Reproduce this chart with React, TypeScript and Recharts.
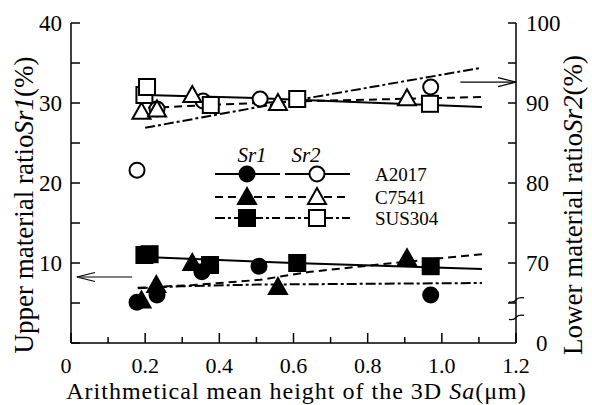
import React from 'react';
import { ComposedChart, Scatter, XAxis, YAxis, ReferenceLine } from 'recharts';

const FONT = "'Liberation Serif', 'Times New Roman', Tinos, 'DejaVu Serif', serif";
const INK = '#000';

const xTicks = [0, 0.1, 0.2, 0.3, 0.4, 0.5, 0.6, 0.7, 0.8, 0.9, 1.0, 1.1, 1.2];
const sr1Ticks = [0, 5, 10, 15, 20, 25, 30, 35, 40];
const sr1Labels: Record<number, string> = { 10: '10', 20: '20', 30: '30', 40: '40' };
const sr2Ticks = [60, 65, 70, 75, 80, 85, 90, 95, 100];
const sr2Labels: Record<number, string> = { 60: '0', 70: '70', 80: '80', 90: '90', 100: '100' };

const materials = ['A2017', 'C7541', 'SUS304'];

// Sr1 (upper material ratio, left axis) - filled markers
const a2017Sr1 = [
  { x: 0.178, y: 5.1 }, { x: 0.232, y: 6.0 }, { x: 0.353, y: 8.9 }, { x: 0.507, y: 9.6 }, { x: 0.97, y: 6.0 },
];
const c7541Sr1 = [
  { x: 0.19, y: 5.3 }, { x: 0.23, y: 7.25 }, { x: 0.327, y: 10.0 }, { x: 0.558, y: 7.0 }, { x: 0.906, y: 10.6 },
];
const sus304Sr1 = [
  { x: 0.198, y: 11.0 }, { x: 0.212, y: 11.1 }, { x: 0.375, y: 9.75 }, { x: 0.61, y: 10.0 }, { x: 0.97, y: 9.6 },
];

// Sr2 (lower material ratio, right axis) - open markers
const a2017Sr2 = [
  { x: 0.178, y: 81.6 }, { x: 0.232, y: 89.25 }, { x: 0.356, y: 90.25 }, { x: 0.51, y: 90.5 }, { x: 0.97, y: 92.0 },
];
const c7541Sr2 = [
  { x: 0.19, y: 88.9 }, { x: 0.232, y: 89.2 }, { x: 0.327, y: 91.0 }, { x: 0.558, y: 90.0 }, { x: 0.906, y: 90.6 },
];
const sus304Sr2 = [
  { x: 0.198, y: 91.0 }, { x: 0.205, y: 92.0 }, { x: 0.377, y: 89.75 }, { x: 0.61, y: 90.5 }, { x: 0.968, y: 89.9 },
];

// fitted curves
const a2017Sr1Fit = [{ x: 0.2, y: 10.75 }, { x: 0.6, y: 10.0 }, { x: 1.108, y: 9.25 }];
const c7541Sr1Fit = [
  { x: 0.18, y: 6.9 }, { x: 0.33, y: 7.25 }, { x: 0.51, y: 7.9 }, { x: 0.645, y: 8.9 }, { x: 0.87, y: 10.0 }, { x: 1.108, y: 11.1 },
];
const sus304Sr1Fit = [{ x: 0.18, y: 6.85 }, { x: 0.3, y: 7.1 }, { x: 0.5, y: 7.3 }, { x: 0.8, y: 7.4 }, { x: 1.108, y: 7.5 }];
const a2017Sr2Fit = [{ x: 0.2, y: 91.0 }, { x: 0.51, y: 90.6 }, { x: 0.78, y: 90.1 }, { x: 1.108, y: 89.5 }];
const c7541Sr2Fit = [{ x: 0.208, y: 89.4 }, { x: 0.6, y: 90.2 }, { x: 1.108, y: 90.75 }];
const sus304Sr2Fit = [{ x: 0.2, y: 86.9 }, { x: 0.6, y: 90.3 }, { x: 1.108, y: 94.4 }];

const dashes = ['', '8 5', '10 3 3 3'];
const kinds = ['circle', 'triangle', 'square'] as const;

const txt = (size: number, italic = false) => ({ fontFamily: FONT, fontSize: size, fontStyle: italic ? 'italic' : 'normal', fill: INK });

function Marker({ kind, filled, cx, cy }: { kind: string; filled: boolean; cx: number; cy: number }) {
  const style = { fill: filled ? INK : '#fff', stroke: INK, strokeWidth: 2 };
  if (kind === 'circle') return <circle cx={cx} cy={cy} r={7.5} {...style} />;
  if (kind === 'square') return <rect x={cx - 8} y={cy - 8} width={16} height={16} {...style} />;
  return <polygon points={`${cx},${cy - 9} ${cx + 9},${cy + 7} ${cx - 9},${cy + 7}`} {...style} />;
}

const markerShape = (kind: string, filled: boolean) => (p: any) =>
  <Marker kind={kind} filled={filled} cx={p.cx} cy={p.cy} />;

const noDot = () => <g />;

const BottomTick = ({ x, y, payload }: any) => {
  const v = payload.value;
  const major = Math.round(v * 10) % 2 === 0;
  return (
    <g>
      <line x1={x} x2={x} y1={y} y2={y - (major ? 10 : 6)} stroke={INK} strokeWidth={1.5} />
      {major && (
        <text x={v === 0 ? x - 5 : x} y={y + 30} textAnchor="middle" style={txt(22)}>
          {v === 0 ? '0' : v.toFixed(1)}
        </text>
      )}
    </g>
  );
};

const TopTick = ({ x, y, payload }: any) => {
  const major = Math.round(payload.value * 10) % 2 === 0;
  return <line x1={x} x2={x} y1={y} y2={y + (major ? 10 : 6)} stroke={INK} strokeWidth={1.5} />;
};

const LeftTick = ({ x, y, payload }: any) => (
  <g>
    <line x1={x} x2={x + 9} y1={y} y2={y} stroke={INK} strokeWidth={1.5} />
    {sr1Labels[payload.value] && (
      <text x={x - 9} y={y} dy="0.35em" textAnchor="end" style={txt(23)}>
        {sr1Labels[payload.value]}
      </text>
    )}
  </g>
);

const RightTick = ({ x, y, payload }: any) => (
  <g>
    {payload.value > 60 && <line x1={x} x2={x - 8} y1={y} y2={y} stroke={INK} strokeWidth={1.5} />}
    {sr2Labels[payload.value] && (
      <text x={payload.value === 60 ? x + 20 : x + 10} y={y} dy="0.35em" textAnchor="start" style={txt(23)}>
        {sr2Labels[payload.value]}
      </text>
    )}
  </g>
);

const Arrow = ({ x1, y1, x2, y2 }: any) => {
  const dir = Math.sign(x2 - x1);
  return (
    <g>
      <line x1={x1} y1={y1} x2={x2} y2={y2} stroke={INK} strokeWidth={1.2} />
      <polyline
        points={`${x2 - dir * 18},${y2 - 4.5} ${x2},${y2} ${x2 - dir * 18},${y2 + 4.5}`}
        fill="none"
        stroke={INK}
        strokeWidth={1.2}
      />
    </g>
  );
};

const AxisBreak = ({ x1, y1, y2 }: any) => (
  <g>
    <line x1={x1} x2={x1} y1={y1} y2={y2} stroke="#fff" strokeWidth={5} />
    <path d={`M${x1 - 7},${y1 + 2} Q${x1 - 2},${y1 + 3} ${x1},${y1} T${x1 + 8},${y1 - 2}`} fill="none" stroke={INK} strokeWidth={1.2} />
    <path d={`M${x1 - 7},${y2 + 2} Q${x1 - 2},${y2 + 3} ${x1},${y2} T${x1 + 8},${y2 - 2}`} fill="none" stroke={INK} strokeWidth={1.2} />
  </g>
);

const XTitle = ({ viewBox }: any) => (
  <text
    x={viewBox.x + viewBox.width / 2 + 3}
    y={viewBox.y + 56}
    textAnchor="middle"
    style={{ ...txt(24), letterSpacing: 1 }}
  >
    Arithmetical mean height of the 3D <tspan fontStyle="italic">Sa</tspan>(μm)
  </text>
);

const LeftTitle = ({ viewBox }: any) => {
  const cx = viewBox.x + 13;
  const cy = viewBox.y + viewBox.height / 2 + 22;
  return (
    <text x={cx} y={cy} transform={`rotate(-90 ${cx} ${cy})`} textAnchor="middle" dy="0.35em" style={txt(27)}>
      Upper material ratio<tspan fontStyle="italic">Sr1</tspan>(%)
    </text>
  );
};

const RightTitle = ({ viewBox }: any) => {
  const cx = viewBox.x + 57;
  const cy = viewBox.y + viewBox.height / 2 + 22;
  return (
    <text x={cx} y={cy} transform={`rotate(-90 ${cx} ${cy})`} textAnchor="middle" dy="0.35em" style={txt(27)}>
      Lower material ratio<tspan fontStyle="italic">Sr2</tspan>(%)
    </text>
  );
};

function LegendBox() {
  const rows = [34, 57, 78];
  return (
    <svg width={200} height={95} style={{ position: 'absolute', left: 205, top: 140, overflow: 'visible' }}>
      <text x={47} y={22} textAnchor="middle" style={txt(21, true)}>Sr1</text>
      <text x={101} y={22} textAnchor="middle" style={txt(21, true)}>Sr2</text>
      {materials.map((m, i) => (
        <g key={m}>
          <line x1={10} x2={75} y1={rows[i]} y2={rows[i]} stroke={INK} strokeWidth={2} strokeDasharray={dashes[i]} />
          <line x1={80} x2={145} y1={rows[i]} y2={rows[i]} stroke={INK} strokeWidth={2} strokeDasharray={dashes[i]} />
          <Marker kind={kinds[i]} filled cx={42} cy={rows[i]} />
          <Marker kind={kinds[i]} filled={false} cx={112} cy={rows[i]} />
          <text x={170} y={rows[i] + 7} style={txt(19)}>{m}</text>
        </g>
      ))}
    </svg>
  );
}

export default function App() {
  const fitLine = (dash: string) => ({ stroke: INK, strokeWidth: 2, strokeDasharray: dash });
  const fitsSr1 = [a2017Sr1Fit, c7541Sr1Fit, sus304Sr1Fit];
  const fitsSr2 = [a2017Sr2Fit, c7541Sr2Fit, sus304Sr2Fit];
  const ptsSr1 = [a2017Sr1, c7541Sr1, sus304Sr1];
  const ptsSr2 = [a2017Sr2, c7541Sr2, sus304Sr2];

  return (
    <div style={{ position: 'absolute', left: 0, top: 0, width: 592, height: 405, background: '#fff', fontFamily: FONT }}>
      <ComposedChart width={592} height={405} margin={{ top: 23, right: 16, bottom: 0, left: 11 }}>
        <XAxis
          xAxisId="b"
          dataKey="x"
          type="number"
          domain={[0, 1.2]}
          ticks={xTicks}
          interval={0}
          tickSize={0}
          tickMargin={0}
          tick={<BottomTick />}
          axisLine={{ stroke: INK, strokeWidth: 1.5 }}
          height={62}
          allowDataOverflow
          label={XTitle}
        />
        <XAxis
          xAxisId="t"
          orientation="top"
          dataKey="x"
          type="number"
          domain={[0, 1.2]}
          ticks={xTicks}
          interval={0}
          tickSize={0}
          tickMargin={0}
          tick={<TopTick />}
          axisLine={{ stroke: INK, strokeWidth: 1.5 }}
          height={0}
          allowDataOverflow
        />
        <YAxis
          yAxisId="l"
          dataKey="y"
          type="number"
          domain={[0, 40]}
          ticks={sr1Ticks}
          interval={0}
          tickSize={0}
          tickMargin={0}
          tick={<LeftTick />}
          axisLine={{ stroke: INK, strokeWidth: 1.5 }}
          width={60}
          allowDataOverflow
          label={LeftTitle}
        />
        <YAxis
          yAxisId="r"
          dataKey="y"
          orientation="right"
          type="number"
          domain={[60, 100]}
          ticks={sr2Ticks}
          interval={0}
          tickSize={0}
          tickMargin={0}
          tick={<RightTick />}
          axisLine={{ stroke: INK, strokeWidth: 1.5 }}
          width={60}
          allowDataOverflow
          label={RightTitle}
        />

        {fitsSr1.map((d, i) => (
          <Scatter key={'f1' + i} data={d} dataKey="y" xAxisId="b" yAxisId="l" line={fitLine(dashes[i])} lineType="joint" shape={noDot} isAnimationActive={false} />
        ))}
        {fitsSr2.map((d, i) => (
          <Scatter key={'f2' + i} data={d} dataKey="y" xAxisId="b" yAxisId="r" line={fitLine(dashes[i])} lineType="joint" shape={noDot} isAnimationActive={false} />
        ))}
        {ptsSr2.map((d, i) => (
          <Scatter key={'p2' + i} data={d} dataKey="y" xAxisId="b" yAxisId="r" shape={markerShape(kinds[i], false)} isAnimationActive={false} />
        ))}
        {ptsSr1.map((d, i) => (
          <Scatter key={'p1' + i} data={d} dataKey="y" xAxisId="b" yAxisId="l" shape={markerShape(kinds[i], true)} isAnimationActive={false} />
        ))}

        <ReferenceLine xAxisId="b" yAxisId="r" segment={[{ x: 1.05, y: 92.6 }, { x: 1.2, y: 92.6 }]} shape={Arrow} ifOverflow="visible" />
        <ReferenceLine xAxisId="b" yAxisId="l" segment={[{ x: 0.165, y: 8.25 }, { x: 0.016, y: 8.25 }]} shape={Arrow} ifOverflow="visible" />
        <ReferenceLine xAxisId="b" yAxisId="r" segment={[{ x: 1.2, y: 65.4 }, { x: 1.2, y: 63.2 }]} shape={AxisBreak} ifOverflow="visible" />
      </ComposedChart>
      <LegendBox />
    </div>
  );
}
